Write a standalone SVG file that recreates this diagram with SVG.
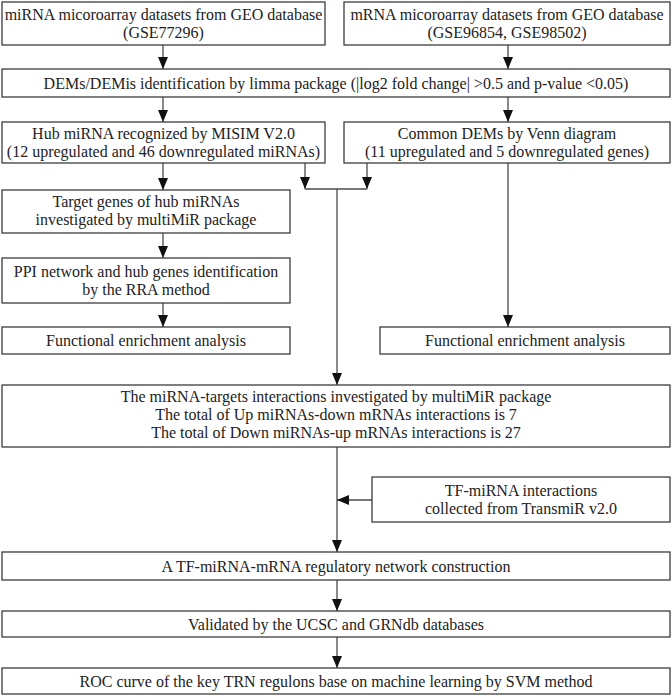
<svg xmlns="http://www.w3.org/2000/svg" width="672" height="696" viewBox="0 0 672 696">
<style>
  .box { fill: #ffffff; stroke: #3c3c3c; stroke-width: 1.3; }
  .t { font-family: "Liberation Serif", "Times New Roman", serif; font-size: 16px; fill: #222222; text-anchor: middle; }
  .c { fill: none; stroke: #4a4a4a; stroke-width: 1.3; }
</style>
<defs>
  <marker id="arr" viewBox="0 0 12 10" markerWidth="12" markerHeight="10" refX="12" refY="5" orient="auto" markerUnits="userSpaceOnUse">
    <path d="M0,0 L12,5 L0,10 z" fill="#111111"/>
  </marker>
</defs>
<rect width="672" height="696" fill="#ffffff"/>

<g id="connectors">
  <line class="c" x1="163" y1="45" x2="163" y2="69" marker-end="url(#arr)"/>
  <line class="c" x1="508" y1="45" x2="508" y2="69" marker-end="url(#arr)"/>
  <line class="c" x1="163" y1="97" x2="163" y2="122" marker-end="url(#arr)"/>
  <line class="c" x1="508" y1="97" x2="508" y2="122" marker-end="url(#arr)"/>
  <line class="c" x1="163" y1="163" x2="163" y2="190" marker-end="url(#arr)"/>
  <line class="c" x1="305" y1="163" x2="305" y2="189" marker-end="url(#arr)"/>
  <line class="c" x1="367" y1="163" x2="367" y2="189" marker-end="url(#arr)"/>
  <line class="c" x1="305" y1="189" x2="367" y2="189"/>
  <line class="c" x1="337" y1="189" x2="337" y2="385" marker-end="url(#arr)"/>
  <line class="c" x1="163" y1="233" x2="163" y2="258" marker-end="url(#arr)"/>
  <line class="c" x1="163" y1="303" x2="163" y2="327" marker-end="url(#arr)"/>
  <line class="c" x1="508" y1="163" x2="508" y2="327" marker-end="url(#arr)"/>
  <line class="c" x1="337" y1="447" x2="337" y2="552" marker-end="url(#arr)"/>
  <line class="c" x1="372" y1="500" x2="337" y2="500" marker-end="url(#arr)"/>
  <line class="c" x1="337" y1="580" x2="337" y2="611" marker-end="url(#arr)"/>
  <line class="c" x1="337" y1="637" x2="337" y2="668" marker-end="url(#arr)"/>
</g>

<g id="mirna-datasets">
  <rect class="box" x="2" y="2" width="323" height="43"/>
  <text class="t" x="163.5" y="20">miRNA micoroarray datasets from GEO database</text>
  <text class="t" x="163.5" y="38">(GSE77296)</text>
</g>
<g id="mrna-datasets">
  <rect class="box" x="344" y="2" width="326" height="43"/>
  <text class="t" x="507" y="20">mRNA micoroarray datasets from GEO database</text>
  <text class="t" x="507" y="38">(GSE96854, GSE98502)</text>
</g>
<g id="dems">
  <rect class="box" x="2" y="69" width="668" height="28"/>
  <text class="t" x="336" y="88.5">DEMs/DEMis identification by limma package (|log2 fold change| &gt;0.5 and p-value &lt;0.05)</text>
</g>
<g id="hub-mirna">
  <rect class="box" x="2" y="122" width="323" height="41"/>
  <text class="t" x="163.5" y="138.5">Hub miRNA recognized by MISIM V2.0</text>
  <text class="t" x="163.5" y="156.5">(12 upregulated and 46 downregulated miRNAs)</text>
</g>
<g id="common-dems">
  <rect class="box" x="344" y="122" width="326" height="41"/>
  <text class="t" x="507" y="138.5">Common DEMs by Venn diagram</text>
  <text class="t" x="507" y="156.5">(11 upregulated and 5 downregulated genes)</text>
</g>
<g id="target-genes">
  <rect class="box" x="2" y="190" width="288" height="43"/>
  <text class="t" x="146" y="207">Target genes of hub miRNAs</text>
  <text class="t" x="146" y="225">investigated by multiMiR package</text>
</g>
<g id="ppi">
  <rect class="box" x="2" y="258" width="288" height="45"/>
  <text class="t" x="146" y="277">PPI network and hub genes identification</text>
  <text class="t" x="146" y="295">by the RRA method</text>
</g>
<g id="func-left">
  <rect class="box" x="2" y="327" width="288" height="27"/>
  <text class="t" x="146" y="346">Functional enrichment analysis</text>
</g>
<g id="func-right">
  <rect class="box" x="380" y="327" width="290" height="27"/>
  <text class="t" x="525" y="346">Functional enrichment analysis</text>
</g>
<g id="mirna-targets">
  <rect class="box" x="2" y="385" width="668" height="62"/>
  <text class="t" x="336" y="402">The miRNA-targets interactions investigated by multiMiR package</text>
  <text class="t" x="336" y="420">The total of Up miRNAs-down mRNAs interactions is 7</text>
  <text class="t" x="336" y="438">The total of Down miRNAs-up mRNAs interactions is 27</text>
</g>
<g id="tf-mirna">
  <rect class="box" x="372" y="477" width="298" height="45"/>
  <text class="t" x="521" y="496">TF-miRNA interactions</text>
  <text class="t" x="521" y="514">collected from TransmiR v2.0</text>
</g>
<g id="network">
  <rect class="box" x="2" y="552" width="668" height="28"/>
  <text class="t" x="336" y="571.5">A TF-miRNA-mRNA regulatory network construction</text>
</g>
<g id="validated">
  <rect class="box" x="2" y="611" width="668" height="26"/>
  <text class="t" x="336" y="629.5">Validated by the UCSC and GRNdb databases</text>
</g>
<g id="roc">
  <rect class="box" x="2" y="668" width="668" height="26"/>
  <text class="t" x="336" y="686.5">ROC curve of the key TRN regulons base on machine learning by SVM method</text>
</g>
</svg>
